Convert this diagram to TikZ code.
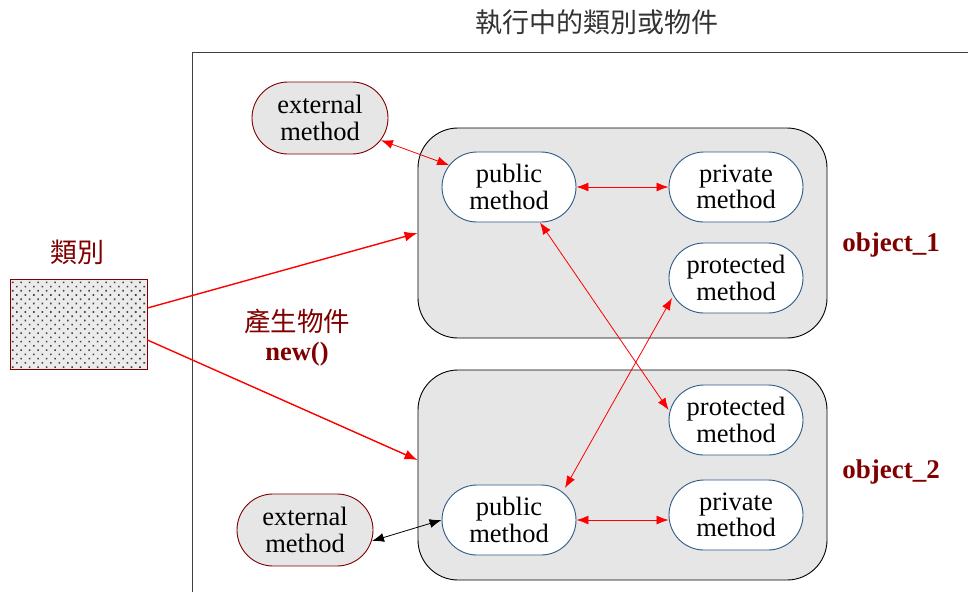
\documentclass[tikz,border=0pt]{standalone}
\usepackage{fontspec}
\setmainfont{Liberation Serif}
\newfontfamily\cjk{Noto Sans CJK TC}
\usetikzlibrary{shapes.misc,arrows.meta,patterns.meta,calc}
\definecolor{darkred}{HTML}{800000}
\definecolor{edgeblue}{HTML}{2F5A86}
\definecolor{boxgray}{HTML}{E6E6E6}
\tikzset{
  method/.style={rounded rectangle, draw=edgeblue, line width=0.9pt, fill=white,
    minimum width=136pt, minimum height=70pt, align=center, font=\fontsize{26.5}{26.5}\selectfont, inner sep=1pt},
  extmethod/.style={method, draw=darkred, fill=boxgray, minimum width=138pt, minimum height=72pt},
  objbox/.style={draw=black, line width=0.9pt, fill=boxgray, rounded corners=40pt,
    minimum width=409pt, minimum height=210pt, inner sep=0pt},
  link/.style={red, line width=0.8pt, {Latex[length=12pt,width=9pt]}-{Latex[length=12pt,width=9pt]}},
  blink/.style={link, black},
  make/.style={red, line width=1.4pt, -{Latex[length=13pt,width=10pt]}},
  objlabel/.style={text=darkred, font=\fontsize{27}{28}\selectfont\bfseries},
}
\begin{document}
\begin{tikzpicture}[x=1pt,y=-1pt]
\useasboundingbox (0,0) rectangle (968,592);

% running area frame and its title
\draw[black!75, line width=1pt] (192,592) -- (192,52) -- (968,52);
\node[font=\cjk\fontsize{27}{30}\selectfont, text=black!80] (title) at (597,22) {執行中的類別或物件};

% the class
\node[draw=darkred, line width=0.9pt, fill=black!8, minimum width=137pt, minimum height=90pt, inner sep=0pt,
  postaction={pattern={Dots[distance=6pt, radius=1.1pt, angle=45]}, pattern color=black!75}] (cls) at (78.5,324) {};
\node[font=\cjk\fontsize{27}{30}\selectfont, text=darkred] (clslabel) at (77,252) {類別};

% object boxes
\node[objbox] (obj1) at (622.5,233) {};
\node[objbox] (obj2) at (622.5,475) {};
\node[objlabel] (lab1) at (891,245) {object\_1};
\node[objlabel] (lab2) at (891,472) {object\_2};

% methods of object_1
\node[method] (pub1) at (509,187) {public\\method};
\node[method] (priv1) at (736,187) {private\\method};
\node[method] (prot1) at (736,278) {protected\\method};

% methods of object_2
\node[method] (prot2) at (736,420) {protected\\method};
\node[method] (priv2) at (736,515) {private\\method};
\node[method] (pub2) at (509,520) {public\\method};

% external methods
\node[extmethod] (ext1) at (320,118) {external\\method};
\node[extmethod] (ext2) at (305,530) {external\\method};

% instantiation
\node[align=center, text=darkred, font=\fontsize{26.5}{29}\selectfont] (newlab) at (297,338)
  {{\cjk 產生物件}\\\textbf{new()}};
\draw[make] ([yshift=16pt]cls.east) -- (obj1.west);
\draw[make] ([yshift=-16pt]cls.east) -- ([yshift=15pt]obj2.west);

% calls between methods
\draw[link] (ext1) -- (pub1);
\draw[link] (pub1.east) -- (pub1.east -| priv1.west);
\draw[link] ([xshift=31pt]pub1.south) -- ([yshift=10pt]prot2.west);
\draw[link] ($(pub2.center)+(56,-32)$) -- ($(prot1.center)+(-64,20)$);
\draw[link] (pub2.east) -- (pub2.east -| priv2.west);
\draw[blink] ($(ext2.center)+(67,11)$) -- (pub2.west);
\end{tikzpicture}
\end{document}
